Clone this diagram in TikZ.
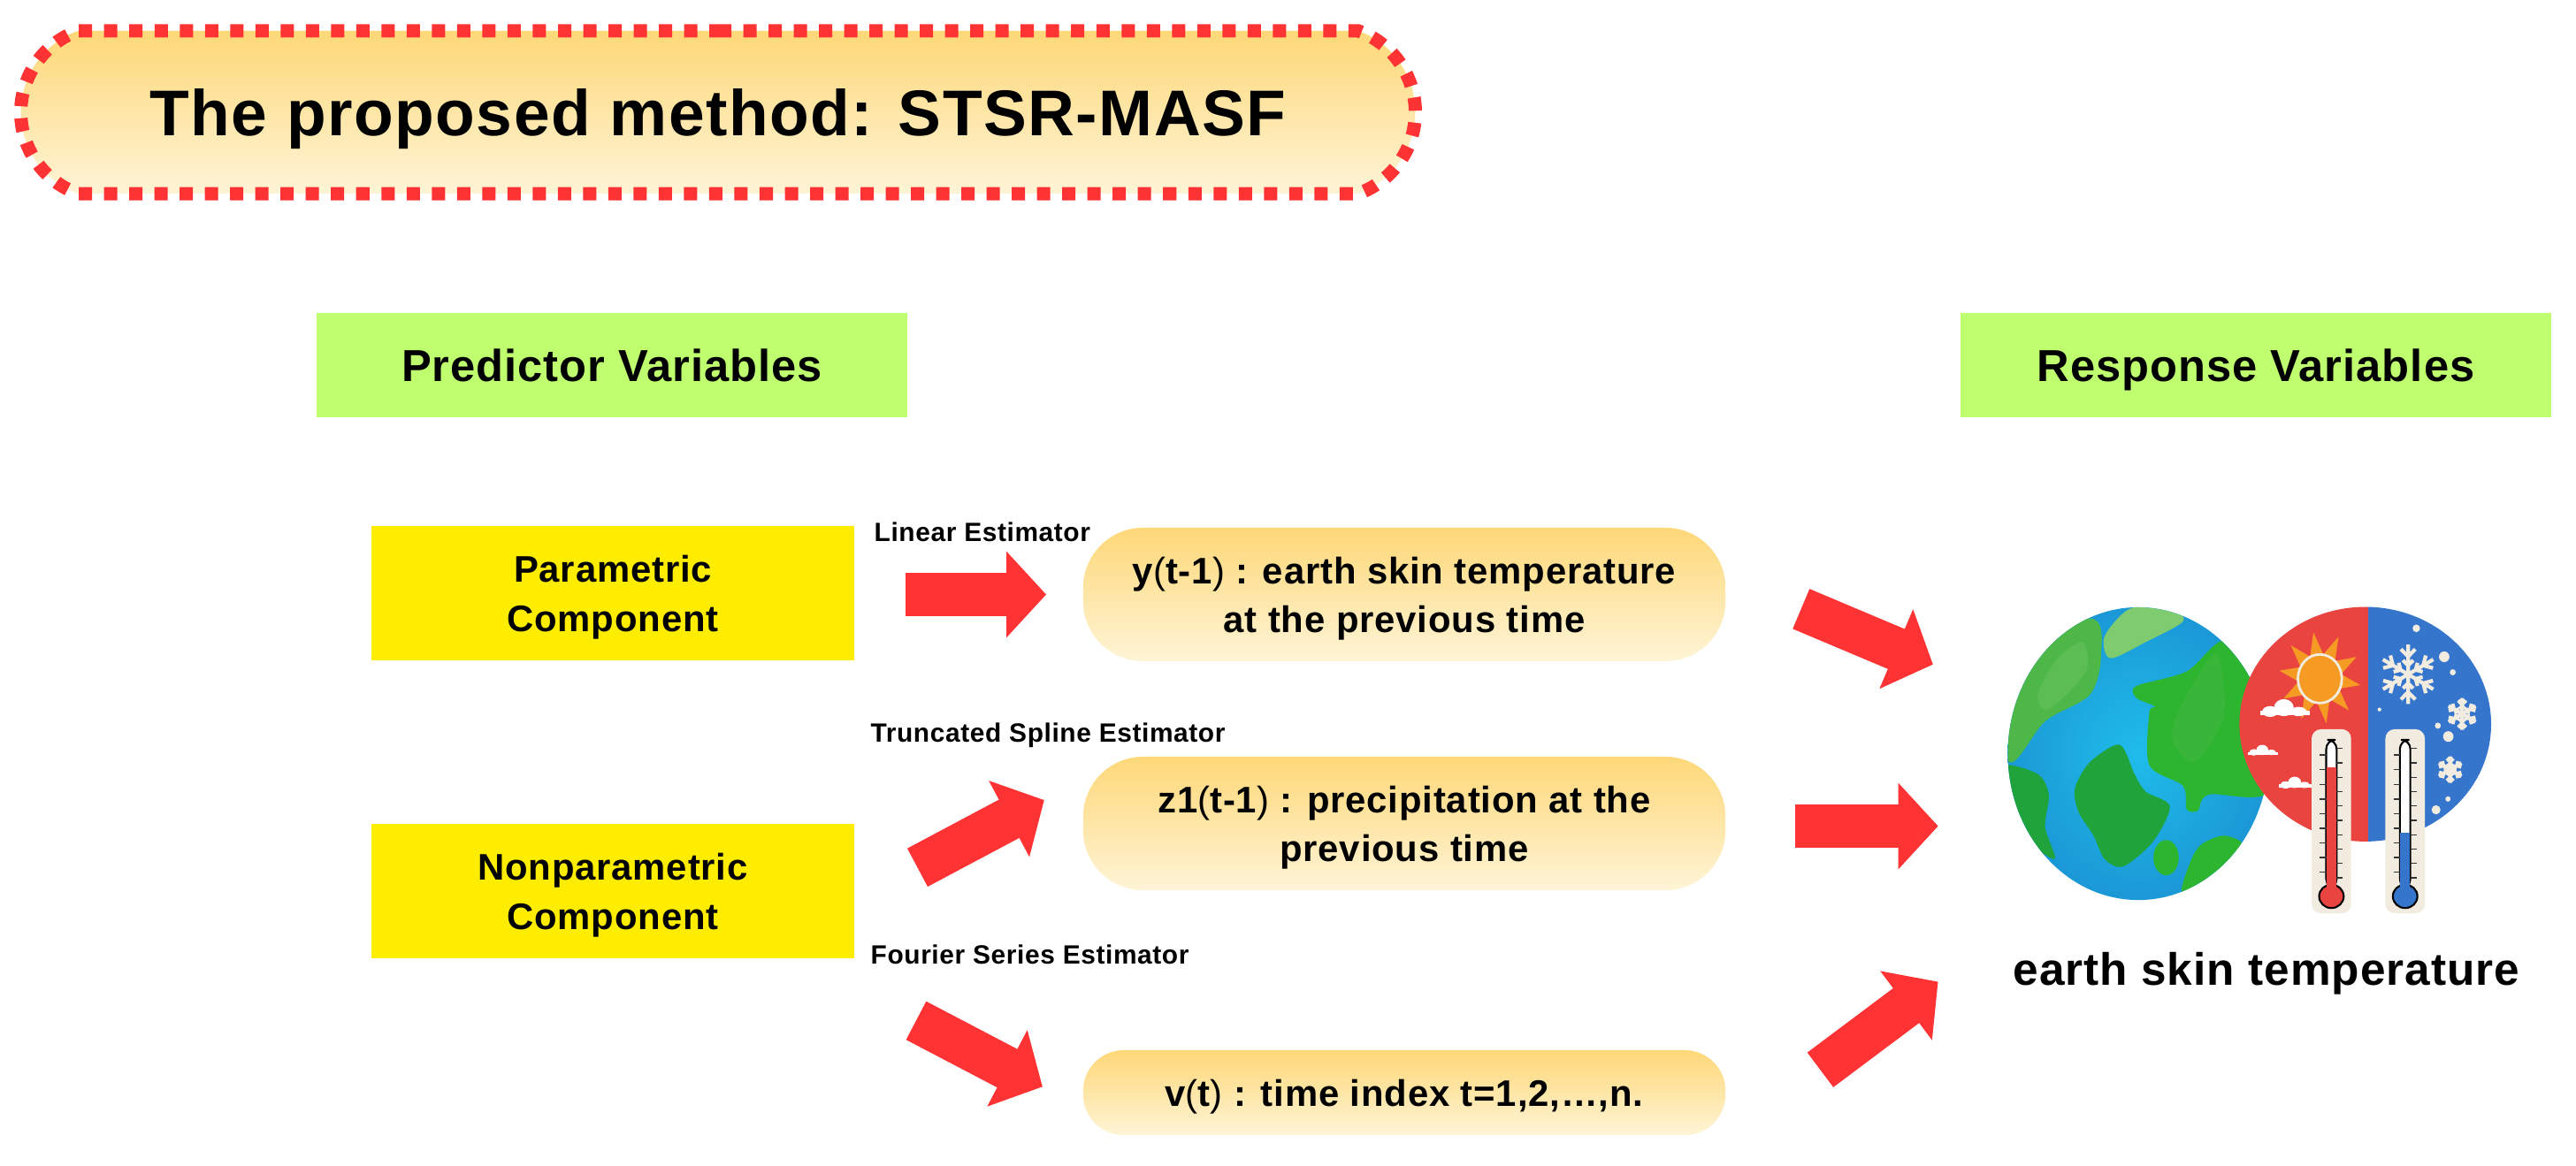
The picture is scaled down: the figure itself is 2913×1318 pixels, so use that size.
\documentclass[tikz,border=0pt]{standalone}
\usepackage{fontspec}
\setmainfont[LetterSpace=2]{Liberation Sans}
\usetikzlibrary{arrows.meta,shapes.geometric,shapes.misc}
\definecolor{softred}{HTML}{FF3333}
\definecolor{sand}{HTML}{FED878}
\definecolor{pale}{HTML}{FEF4D6}
\definecolor{lime}{HTML}{BFFF6F}
\definecolor{lemon}{HTML}{FFED00}
\definecolor{warm}{HTML}{EA4440}
\definecolor{cold}{HTML}{3575CC}
\definecolor{beige}{HTML}{F2EBE0}
\definecolor{sun}{HTML}{F59B23}
\definecolor{seamid}{HTML}{1FBCEA}
\definecolor{searim}{HTML}{1B98D6}
\definecolor{leafa}{HTML}{2DB52F}
\definecolor{leafb}{HTML}{1FA33A}
\definecolor{leafc}{HTML}{4DB848}
\definecolor{leafd}{HTML}{7FCB70}
\tikzset{
  headbox/.style={fill=lime,minimum width=6.68cm,minimum height=1.17cm,inner sep=0pt,text depth=0pt,font=\fontsize{14.4}{16}\selectfont\bfseries},
  partbox/.style={fill=lemon,minimum width=5.46cm,minimum height=1.51cm,inner sep=0pt,align=center,text depth=0pt,font=\fontsize{11.9}{16}\selectfont\bfseries},
  termbox/.style={top color=sand,bottom color=pale,draw=none,minimum width=7.26cm,inner sep=0pt,align=center,text depth=0pt,font=\fontsize{11.9}{15.6}\selectfont\bfseries},
  estlabel/.style={anchor=base west,inner sep=0pt,font=\fontsize{8.5}{9}\selectfont\bfseries},
  bigarrow/.style={draw=softred,line width=.49cm,-{Triangle[length=.45cm,width=.95cm]}},
}
\begin{document}
\begin{tikzpicture}[x=0.01cm,y=-0.01cm]
  \useasboundingbox (0,0) rectangle (2913,1318);
  % title
  \node[rounded rectangle,rounded rectangle arc length=140,top color=sand,bottom color=pale,
    draw=softred,line width=.15cm,dash pattern=on .15cm off .135cm,
    minimum width=15.76cm,minimum height=1.84cm,inner sep=0pt,text depth=0pt,
    font=\fontsize{20.8}{26}\selectfont\bfseries] (title) at (812,127) {The proposed method: STSR-MASF};
  % headers
  \node[headbox] (predictor) at (692,413) {Predictor Variables};
  \node[headbox] (response) at (2551,413) {Response Variables};
  % components
  \node[partbox] (param) at (693,671) {Parametric\\Component};
  \node[partbox] (nonparam) at (693,1008) {Nonparametric\\Component};
  % terms
  \node[termbox,minimum height=1.51cm,rounded corners=.68cm] (ybox) at (1588,672.5)
    {y{\mdseries(}t-1{\mdseries)} : earth skin temperature\\at the previous time};
  \node[termbox,minimum height=1.51cm,rounded corners=.68cm] (zbox) at (1588,931.5)
    {z1{\mdseries(}t-1{\mdseries)} : precipitation at the\\previous time};
  \node[termbox,minimum height=.96cm,rounded corners=.46cm] (vbox) at (1588,1236)
    {v{\mdseries(}t{\mdseries)} : time index t=1,2,\dots,n.};
  % estimators
  \node[estlabel] (linear) at (988,612) {Linear Estimator};
  \node[estlabel] (spline) at (984,839) {Truncated Spline Estimator};
  \node[estlabel] (fourier) at (984,1090) {Fourier Series Estimator};
  % earth
  \node[ellipse,minimum width=2.95cm,minimum height=3.31cm,inner sep=0pt,inner color=seamid,outer color=searim] (earth) at (2418,852.5) {};
  \begin{scope}
    \clip (2418,852.5) ellipse [x radius=147.5,y radius=165.5];
    \begin{scope}[shift={(2220,660)},xscale=.421,yscale=.3317]
      \fill[leafc] plot[smooth cycle] coordinates {(345,120) (370,250) (340,380) (220,470) (130,610) (60,500) (100,200)};
      \fill[leafd] plot[smooth cycle] coordinates {(395,255) (380,180) (450,85) (560,90) (590,130) (490,200)};
      \fill[leafa] plot[smooth cycle] coordinates {(700,195) (800,300) (830,700) (660,720) (630,775) (600,770) (590,690) (500,620) (500,440) (515,420) (465,390) (465,350) (600,300)};
      \fill[leafb] plot[smooth cycle] coordinates {(420,550) (460,650) (490,710) (555,760) (510,880) (430,965) (380,940) (350,860) (310,780) (300,700) (340,610)};
      \fill[leafb] plot[smooth cycle] coordinates {(110,620) (200,650) (230,720) (220,830) (245,940) (150,850) (90,700)};
      \fill[leafa] (545,935) ellipse [x radius=34,y radius=60];
      \fill[leafa] plot[smooth cycle] coordinates {(700,860) (750,890) (700,960) (590,1055) (610,950) (640,890)};
      \fill[leafd,opacity=.3] plot[smooth cycle] coordinates {(320,200) (330,300) (230,430) (200,380) (250,260)};
      \fill[leafc,opacity=.4] plot[smooth cycle] coordinates {(680,240) (700,450) (620,610) (560,520) (600,380)};
    \end{scope}
  \end{scope}
  % picture on the right
  \begin{scope}[shift={(2220,660)},xscale=.421,yscale=.3317]
    \begin{scope}
      \clip (700,0) rectangle (1088,885);
      \fill[warm] (1080,480) ellipse [x radius=338,y radius=400];
    \end{scope}
    \begin{scope}
      \clip (1088,0) rectangle (1450,885);
      \fill[cold] (1080,480) ellipse [x radius=338,y radius=400];
    \end{scope}
    % sun
    \foreach \a in {9,45,...,333}
      \fill[sun] ({958+58*cos(\a-18)},{322+81*sin(\a-18)}) -- ({958+110*cos(\a)},{322+157*sin(\a)}) -- ({958+58*cos(\a+18)},{322+81*sin(\a+18)}) -- cycle;
    \filldraw[fill=sun,draw=beige,thick] (958,325) ellipse [x radius=59,y radius=83];
    % clouds
    \foreach \cx/\cy/\cw in {798/450/132,765/584/80,848/696/88} {
      \fill[white] (\cx,\cy) rectangle (\cx+\cw,\cy-.12*\cw);
      \fill[white] (\cx+.2*\cw,\cy-.1*\cw) ellipse [x radius=.16*\cw,y radius=.14*\cw];
      \fill[white] (\cx+.48*\cw,\cy-.2*\cw) ellipse [x radius=.2*\cw,y radius=.22*\cw];
      \fill[white] (\cx+.78*\cw,\cy-.1*\cw) ellipse [x radius=.16*\cw,y radius=.12*\cw];
    }
    % snow
    \foreach \fx/\fy/\fs in {1195/310/78,1340/445/42,1308/635/35}
      \foreach \a in {30,90,...,330}
        \draw[beige,line width=1.2pt] (\fx,\fy) -- ++({\fs*cos(\a)},{1.3*\fs*sin(\a)})
          ({\fx+.6*\fs*cos(\a)},{\fy+.78*\fs*sin(\a)}) -- ++({.35*\fs*cos(\a+45)},{.45*\fs*sin(\a+45)})
          ({\fx+.6*\fs*cos(\a)},{\fy+.78*\fs*sin(\a)}) -- ++({.35*\fs*cos(\a-45)},{.45*\fs*sin(\a-45)})
          ({\fx+.3*\fs*cos(\a)},{\fy+.39*\fs*sin(\a)}) -- ++({.25*\fs*cos(\a+45)},{.32*\fs*sin(\a+45)})
          ({\fx+.3*\fs*cos(\a)},{\fy+.39*\fs*sin(\a)}) -- ++({.25*\fs*cos(\a-45)},{.32*\fs*sin(\a-45)});
    \foreach \dx/\dy/\dr in {1217/153/10,1292/250/14,1315/303/8,1118/430/5,1275/485/8,1303/522/14,1302/735/7,1270/772/12}
      \fill[beige] (\dx,\dy) ellipse [x radius=\dr,y radius=\dr*1.3];
    % thermometers
    \foreach \tx/\tc/\tl in {989/warm/628,1187/cold/850} {
      \fill[beige,rounded corners=3pt] (\tx-53,497) rectangle (\tx+53,1125);
      \filldraw[fill=white,draw=black,semithick,rounded corners=3pt] (\tx-14,533) rectangle (\tx+14,1040);
      \fill[\tc] (\tx-13,\tl) rectangle (\tx+13,1040);
      \filldraw[fill=\tc,draw=black,semithick] (\tx,1067) ellipse [x radius=33,y radius=40];
      \fill[\tc] (\tx-13,1000) rectangle (\tx+13,1050);
      \foreach \ty in {585,635,...,985}
        \draw[black!80] (\tx-31,\ty) -- (\tx-14,\ty);
      \foreach \ty in {563,612,...,1005}
        \draw[black!80] (\tx+14,\ty) -- (\tx+31,\ty);
    }
  \end{scope}
  \node[anchor=base,inner sep=0pt,font=\fontsize{14.6}{18}\selectfont\bfseries] (skin) at (2563,1114) {earth skin temperature};
  % arrows
  \draw[bigarrow,shorten <=.57cm,shorten >=.41cm] (param.east |- ybox.west) -- (ybox.west);
  \draw[bigarrow,shorten <=.80cm,shorten >=.49cm] ([shift={(0,11)}]nonparam.east) -- ([shift={(0,-49.5)}]zbox.west);
  \draw[bigarrow,shorten <=.78cm,shorten >=.51cm] ([shift={(0,34)}]nonparam.south east) -- ([shift={(0,17)}]vbox.west);
  \draw[bigarrow,shorten <=.92cm,shorten >=.91cm] ([shift={(0,-19.5)}]ybox.east) -- ([shift={(0,-65.5)}]earth.west);
  \draw[bigarrow,shorten <=.78cm,shorten >=.78cm] ([shift={(0,3)}]zbox.east) -- ([shift={(0,82)}]earth.west);
  \draw[bigarrow,shorten <=1.33cm,shorten >=.976cm] ([shift={(0,54)}]vbox.east) -- ([shift={(0,199.5)}]earth.west);
\end{tikzpicture}
\end{document}
